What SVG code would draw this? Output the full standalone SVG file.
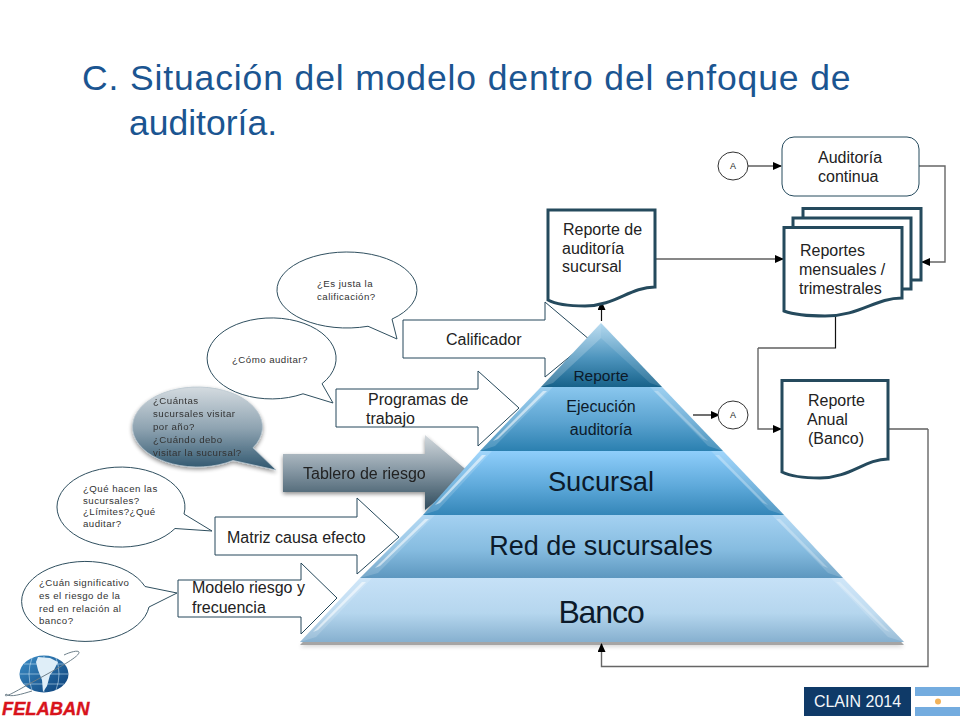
<svg xmlns="http://www.w3.org/2000/svg" width="960" height="720" viewBox="0 0 960 720">
<style>
text{font-family:"Liberation Sans",Arial,sans-serif;fill:#222}
.title{font-size:35.5px;fill:#1b5591}
.lb{font-size:16px}
.sm{font-size:9.7px;letter-spacing:.45px;fill:#333}
.bub{fill:#fff;stroke:#2f4f5f;stroke-width:1}
.arr{fill:#fff;stroke:#24475a;stroke-width:1}
.doc{fill:#fff;stroke:#254a5d;stroke-width:3;stroke-linejoin:miter}
.ln{fill:none;stroke:#111;stroke-width:1.2}
.gl{fill:none;stroke:#666;stroke-width:1.4}
.pt{text-anchor:middle;fill:#0c1a2a}
.edge{fill:#fff;opacity:.16}
.st{fill:#fff;opacity:.55}
.st2{fill:#fff;opacity:.25}
.gr{fill:none;stroke:#cfe6f5;stroke-width:.7;opacity:.8}
</style>
<defs>
<marker id="ah" markerWidth="9" markerHeight="8" refX="8" refY="4" orient="auto" markerUnits="userSpaceOnUse"><path d="M0 0L9 4L0 8Z" fill="#000"/></marker>
<linearGradient id="g1" x1="0" y1="0" x2="0" y2="1"><stop offset="0" stop-color="#c6e1f7"/><stop offset=".55" stop-color="#b5d6ee"/><stop offset="1" stop-color="#86b0cf"/></linearGradient>
<linearGradient id="g2" x1="0" y1="0" x2="0" y2="1"><stop offset="0" stop-color="#a4d1f1"/><stop offset=".55" stop-color="#86bce0"/><stop offset="1" stop-color="#5d97bf"/></linearGradient>
<linearGradient id="g3" x1="0" y1="0" x2="0" y2="1"><stop offset="0" stop-color="#8fcefb"/><stop offset=".55" stop-color="#5ea9da"/><stop offset="1" stop-color="#3486b8"/></linearGradient>
<linearGradient id="g4" x1="0" y1="0" x2="0" y2="1"><stop offset="0" stop-color="#8ac7ee"/><stop offset=".55" stop-color="#5ba3d0"/><stop offset="1" stop-color="#2b80b0"/></linearGradient>
<linearGradient id="g5" x1="0" y1="0" x2="0" y2="1"><stop offset="0" stop-color="#a9d4ee"/><stop offset=".55" stop-color="#4d94bd"/><stop offset="1" stop-color="#17628a"/></linearGradient>
<linearGradient id="gt" x1="0" y1="0" x2="0" y2="1"><stop offset="0" stop-color="#d3d9dd"/><stop offset=".45" stop-color="#8a9ba7"/><stop offset="1" stop-color="#2f4b5c"/></linearGradient>
<linearGradient id="gb" x1="0" y1="0" x2="0" y2="1"><stop offset="0" stop-color="#d4dbe0"/><stop offset=".5" stop-color="#8ea3b1"/><stop offset="1" stop-color="#2f566e"/></linearGradient>
<linearGradient id="gg" x1="0" y1="0" x2="1" y2="1"><stop offset="0" stop-color="#3d8fc8"/><stop offset="1" stop-color="#0b3f78"/></linearGradient>
<filter id="sh" x="-10%" y="-10%" width="120%" height="125%"><feGaussianBlur in="SourceAlpha" stdDeviation="2"/><feOffset dy="2"/><feComponentTransfer><feFuncA type="linear" slope=".45"/></feComponentTransfer><feMerge><feMergeNode/><feMergeNode in="SourceGraphic"/></feMerge></filter>
</defs>

<g id="title">
<text class="title" x="82" y="90" letter-spacing=".87">C. Situación del modelo dentro del enfoque de</text>
<text class="title" x="129" y="135">auditoría.</text>
</g>

<g id="connectors">
<path class="ln" d="M748 166H781" marker-end="url(#ah)"/>
<path class="gl" d="M919 166H945V262H922" marker-end="url(#ah)"/>
<path class="ln" d="M655 259H783" marker-end="url(#ah)"/>
<path class="ln" d="M601.500 321V302" marker-end="url(#ah)"/>
<path class="ln" d="M835.500 315V348H758"/>
<path class="gl" d="M758 348V429H781" marker-end="url(#ah)"/>
<path class="ln" d="M693 415H719" marker-end="url(#ah)"/>
<path class="ln" d="M889 429H928"/>
<path class="gl" d="M928 429V666.500H601.500V644" marker-end="url(#ah)"/>
</g>

<g id="bubble-justa"><path class="bub" d="M368 326.250A70 38 0 1 1 392 319.100L397 339Z"/><text class="sm" x="317" y="287">¿Es justa la</text><text class="sm" x="317" y="300">calificación?</text></g>
<g id="bubble-como"><path class="bub" d="M303 393.800A64.500 40.500 0 1 1 322 383.700L333 403Z"/><text class="sm" x="232" y="363">¿Cómo auditar?</text></g>
<g id="bubble-cuantas" filter="url(#sh)"><path fill="url(#gb)" stroke="#b9c6cf" stroke-width=".8" d="M233 460.500A65 40 0 1 1 253 447.800L276 470Z"/><text class="sm" x="153" y="404">¿Cuántas</text><text class="sm" x="153" y="417">sucursales visitar</text><text class="sm" x="153" y="430">por año?</text><text class="sm" x="153" y="443">¿Cuándo debo</text><text class="sm" x="153" y="456">visitar la sucursal?</text></g>
<g id="bubble-que"><path class="bub" d="M175 528.500A64 40 0 1 1 184 514L212 531Z"/><text class="sm" x="83" y="492">¿Qué hacen las</text><text class="sm" x="83" y="503.500">sucursales?</text><text class="sm" x="83" y="515">¿Límites?¿Qué</text><text class="sm" x="83" y="527">auditar?</text></g>
<g id="bubble-cuan"><path class="bub" d="M149 607A64 40 0 1 1 145 586.500L177 593Z"/><text class="sm" x="39" y="586">¿Cuán significativo</text><text class="sm" x="39" y="599">es el riesgo de la</text><text class="sm" x="39" y="612">red en relación al</text><text class="sm" x="39" y="624">banco?</text></g>

<g id="arrow-calificador"><path class="arr" d="M403 320H545V302L590 340L545 377V358H403Z"/><text class="lb" x="446" y="344.500">Calificador</text></g>
<g id="arrow-programas"><path class="arr" d="M336 389H478V371L519 408L478 446V427H336Z"/><text class="lb" x="368" y="405">Programas de</text><text class="lb" x="366" y="424">trabajo</text></g>
<g id="arrow-matriz"><path class="arr" d="M215 517H357V498L399 537L357 574V555H215Z"/><text class="lb" x="227" y="543">Matriz causa efecto</text></g>
<g id="arrow-modelo"><path class="arr" d="M178 580H301V563L337 598L301 634V617H178Z"/><text class="lb" x="192" y="593">Modelo riesgo y</text><text class="lb" x="192" y="613">frecuencia</text></g>
<g id="arrow-tablero" filter="url(#sh)"><path fill="url(#gt)" d="M283 454H425V435L470 473L425 510V492H283Z"/><text class="lb" x="303" y="479">Tablero de riesgo</text></g>

<g id="piramide">
<path d="M300 643H904L784 515L723 451L662 387L601 323L541 387L480 451L423 515Z" fill="#000" opacity=".35" transform="translate(0 2)" filter="url(#sh)"/>
<g id="nivel-banco"><path d="M360 578H843L904 642H300Z" fill="url(#g1)"/><path class="edge" d="M360 578L372 578L316 637L300 642Z"/><path class="st" d="M362 582L366 582L318 630L313 632Z"/><path class="edge" d="M843 578H831L888 637L904 642Z"/><path class="st2" d="M836 582L840 582L890 632L885 630Z"/><text class="pt" x="601" y="623" font-size="32" letter-spacing="-1.100">Banco</text></g>
<g id="nivel-red"><path d="M423 515H784L843 578H360Z" fill="url(#g2)"/><path class="edge" d="M423 515H435L378 573L360 578Z"/><path class="st" d="M425 519L429 519L380 566L375 568Z"/><path class="edge" d="M784 515H772L828 573L843 578Z"/><path class="st2" d="M776 519L780 519L828 568L823 566Z"/><text class="pt" x="601" y="554.500" font-size="27">Red de sucursales</text></g>
<g id="nivel-sucursal"><path d="M480 451H723L784 515H423Z" fill="url(#g3)"/><path class="edge" d="M480 451H492L438 510L423 515Z"/><path class="st" d="M482 455L486 455L440 503L435 505Z"/><path class="edge" d="M723 451H711L769 510L784 515Z"/><path class="st2" d="M715 455L719 455L768 505L763 503Z"/><text class="pt" x="601" y="491" font-size="27.300">Sucursal</text></g>
<g id="nivel-ejecucion"><path d="M541 387H662L723 451H480Z" fill="url(#g4)"/><path class="edge" d="M541 387H553L495 446L480 451Z"/><path class="st" d="M543 391L547 391L498 439L493 441Z"/><path class="edge" d="M662 387H650L708 446L723 451Z"/><path class="st2" d="M654 391L658 391L708 441L703 439Z"/><text class="pt" x="601" y="411.500" font-size="16">Ejecución</text><text class="pt" x="601" y="434.500" font-size="16">auditoría</text></g>
<g id="nivel-reporte"><path d="M601 323L662 387H541Z" fill="url(#g5)"/><path d="M601 323L601 338L553 383L541 387Z" fill="#fff" opacity=".2"/><path d="M601 323L601 338L650 383L662 387Z" fill="#fff" opacity=".12"/><text class="pt" x="601" y="381" font-size="15.500">Reporte</text></g>
</g>

<g id="reporte-sucursal"><path class="doc" d="M548 210H655V287C630 287 615 306 585 306C570 306 557 305 548 300Z"/><text class="lb" x="563" y="235">Reporte de</text><text class="lb" x="562" y="254">auditoría</text><text class="lb" x="562" y="272">sucursal</text></g>
<g id="reportes">
<path class="doc" d="M803 208.500H921V280H803Z"/>
<path class="doc" d="M793 218H911V289H793Z"/>
<path class="doc" d="M784 227.500H902V298C875 298 860 316 825 316C810 316 795 315 784 311Z"/>
<text class="lb" x="800" y="256">Reportes</text><text class="lb" x="799" y="275">mensuales /</text><text class="lb" x="799" y="294">trimestrales</text></g>
<g id="reporte-anual"><path class="doc" d="M782 380.500H888V459C865 459 850 478 820 478C805 478 792 477 782 472Z"/><text class="lb" x="808" y="406">Reporte</text><text class="lb" x="807" y="425">Anual</text><text class="lb" x="808" y="444">(Banco)</text></g>
<g id="auditoria-continua"><rect x="782" y="137" width="137" height="59" rx="12" fill="#fff" stroke="#254a5d"/><text class="lb" x="818" y="163">Auditoría</text><text class="lb" x="818" y="182">continua</text></g>
<g id="conector-a-1"><ellipse cx="733" cy="166" rx="15" ry="14" fill="#fff" stroke="#333"/><text x="733" y="169" font-size="9" text-anchor="middle">A</text></g>
<g id="conector-a-2"><ellipse cx="733" cy="415" rx="15" ry="14" fill="#fff" stroke="#333"/><text x="733" y="418" font-size="9" text-anchor="middle">A</text></g>

<g id="logo-felaban">
<ellipse cx="44" cy="674" rx="24.500" ry="18.500" fill="url(#gg)"/>
<path class="gr" d="M20 674H68M24 664H64M24 684H64M44 656V692M32 658Q26 674 32 690M56 658Q62 674 56 690"/>
<path d="M38 657L50 658L58 662L54 670L50 675L47 686L43 692L42 680L38 670L36 662Z" fill="#dfeef8"/>
<path d="M6 694C2 700 18 690 40 678C62 666 80 656 79 652C78 650 70 652 64 655M6 694C10 698 22 694 32 691" fill="none" stroke="#6d7f8a" stroke-width="1"/>
<text x="2" y="715" font-size="18.300" font-weight="700" font-style="italic" style="fill:#d8131b;stroke:#d8131b;stroke-width:.4">FELABAN</text>
</g>
<g id="clain">
<rect x="804" y="687" width="107" height="29" fill="#0f3a68"/>
<text x="857.500" y="707" font-size="16" text-anchor="middle" style="fill:#f4f7fa">CLAIN 2014</text>
<rect x="915" y="687" width="45" height="9" fill="#74acdf"/><rect x="915" y="707" width="45" height="9" fill="#74acdf"/>
<circle cx="938" cy="701.500" r="3" fill="#f2b35a"/>
</g>
</svg>
